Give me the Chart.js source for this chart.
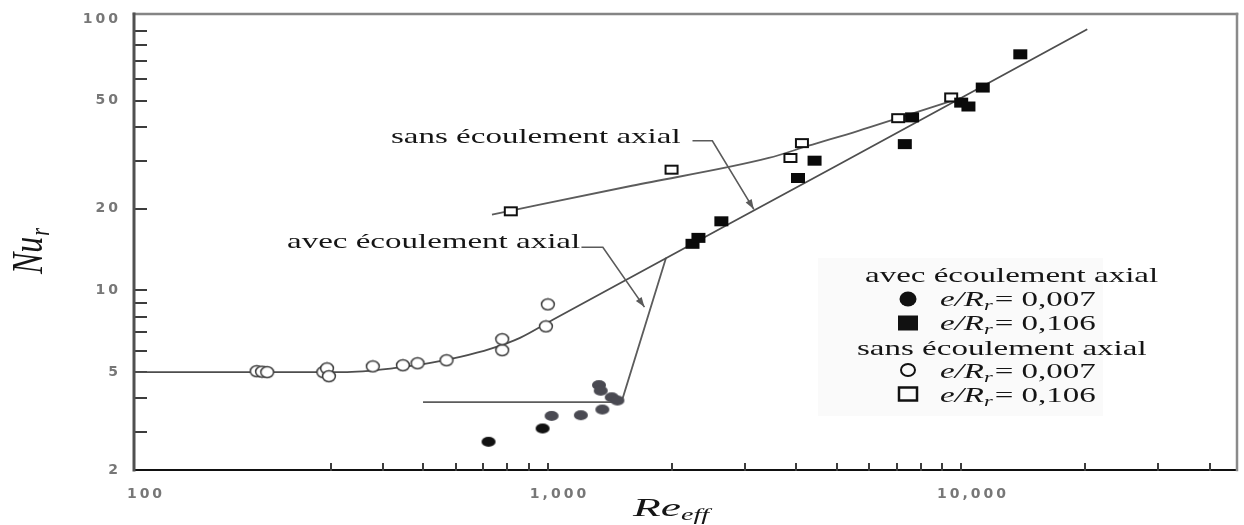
<!DOCTYPE html>
<html>
<head>
<meta charset="utf-8">
<script src="https://cdn.jsdelivr.net/npm/chart.js@4.4.1/dist/chart.umd.min.js"></script>
<style>
  html, body { margin: 0; padding: 0; background: #fff; }
  #wrap { width: 1244px; height: 525px; position: relative; }
</style>
</head>
<body>
<div id="wrap"><canvas id="c" width="1244" height="525"></canvas></div>
<script>
// Nu_r versus effective Reynolds number, with and without axial flow

// avec écoulement axial, e/R_r = 0,007 (filled circles)
const reAvec007 = [720, 973, 1023, 1204, 1357, 1332, 1345, 1430, 1476];
const nuAvec007 = [2.77, 3.10, 3.45, 3.47, 3.64, 4.48, 4.27, 4.04, 3.93];

// avec écoulement axial, e/R_r = 0,106 (filled squares)
const reAvec106 = [2242, 2317, 2633, 4034, 4424, 7311, 7614, 10007, 10420, 11284, 13910];
const nuAvec106 = [14.85, 15.62, 17.98, 25.95, 30.06, 34.6, 43.4, 49.2, 47.6, 55.9, 74.1];

// sans écoulement axial, e/R_r = 0,007 (open circles)
const reSans007 = [198, 204, 210, 287, 293, 296, 378, 447, 485, 570, 777, 777, 991, 1002];
const nuSans007 = [5.04, 5.02, 5.0, 5.0, 5.16, 4.83, 5.25, 5.30, 5.39, 5.53, 6.02, 6.61, 7.37, 8.88];

// sans écoulement axial, e/R_r = 0,106 (open squares)
const reSans106 = [815, 1995, 3867, 4123, 7047, 9467];
const nuSans106 = [19.57, 27.86, 30.75, 34.9, 43.1, 51.4];

// correlation curves
const reCurveLow = [100, 320, 425, 521, 615, 727, 858, 1030, 5000, 20200];
const nuCurveLow = [5.0, 5.0, 5.17, 5.41, 5.69, 6.09, 6.69, 7.80, 28.8, 91.6];
const reCurveHigh = [734, 1600, 3428, 4279, 5646, 7045, 9990];
const nuCurveHigh = [19.03, 24.3, 30.75, 34.12, 38.73, 43.15, 51.2];
const reCurveStep = [500, 1510, 1935];
const nuCurveStep = [3.88, 3.88, 13.2];

// annotation leaders (start, elbow, arrow tip)
const reLeaderSans = [2242, 2504, 3155];
const nuLeaderSans = [35.6, 35.6, 19.9];
const reLeaderAvec = [1208, 1361, 1716];
const nuLeaderAvec = [14.43, 14.43, 8.68];

// axes
const xRange = [100, 46500];
const yRange = [2.18, 104.3];
const xTickValues = [100, 1000, 10000];
const xTickLabels = ['100', '1,000', '10,000'];
const yTickValues = [2.18, 5, 10, 20, 50, 100];
const yTickLabels = ['2', '5', '10', '20', '50', '100'];
const xMarks = [300, 400, 500, 600, 700, 800, 900, 1000, 2000, 3000, 4000, 5000, 6000, 7000, 8000, 9000, 10000, 20000, 30000, 40000];
const yMarks = [3, 4, 5, 6, 7, 8, 9, 10, 20, 30, 40, 50, 60, 70, 80, 90];

const groupLabels = ['avec écoulement axial', 'sans écoulement axial'];
const ratioLabels = ['0,007', '0,106'];

const pts = (xs, ys) => xs.map((v, i) => ({ x: v, y: ys[i] }));

// marker sprites
function sprite(w, h, paint) {
  const c = document.createElement('canvas');
  c.width = w; c.height = h;
  paint(c.getContext('2d'), w, h);
  return c;
}
const dotDark = sprite(16, 12, g => { g.fillStyle = '#111'; g.beginPath(); g.ellipse(8, 6, 7, 5, 0, 0, Math.PI * 2); g.fill(); });
const dotGrey = sprite(16, 12, g => { g.fillStyle = '#4a4a52'; g.beginPath(); g.ellipse(8, 6, 7, 5, 0, 0, Math.PI * 2); g.fill(); });
const ring = sprite(16, 14, g => { g.fillStyle = '#fff'; g.strokeStyle = '#3a3a3a'; g.lineWidth = 1.5; g.beginPath(); g.ellipse(8, 7, 6.4, 5.4, 0, 0, Math.PI * 2); g.fill(); g.stroke(); });
const boxFull = sprite(16, 12, g => { g.fillStyle = '#0a0a0a'; g.fillRect(1, 1, 14, 10); });
const boxOpen = sprite(16, 12, g => { g.fillStyle = '#fff'; g.fillRect(1, 1, 14, 10); g.strokeStyle = '#111'; g.lineWidth = 2; g.strokeRect(2, 2, 12, 8); });

const lineStyle = (color, w, mode) => ({ type: 'scatter', showLine: true, borderColor: color, borderWidth: w, pointRadius: 0, pointHoverRadius: 0, fill: false, order: 2, cubicInterpolationMode: mode, tension: 0 });

function textRun(ctx, x, y, parts, k) {
  let cx = x;
  for (const p of parts) {
    ctx.save();
    ctx.letterSpacing = '0px';
    ctx.font = p.font;
    ctx.fillStyle = p.color || '#151515';
    ctx.textAlign = 'left';
    ctx.textBaseline = 'alphabetic';
    ctx.translate(cx, y + (p.dy || 0));
    ctx.scale(k, 1);
    ctx.fillText(p.t, 0, 0);
    const w = ctx.measureText(p.t).width * k;
    ctx.restore();
    cx += w + (p.gap || 0);
  }
  return cx;
}

const SERIF = '"Liberation Serif", "Times New Roman", serif';
const K = 1.5;

function leader(ctx, xs, ys, res, nus) {
  const p = res.map((r, i) => [xs.getPixelForValue(r), ys.getPixelForValue(nus[i])]);
  ctx.save();
  ctx.strokeStyle = '#5a5a5a';
  ctx.fillStyle = '#5a5a5a';
  ctx.lineWidth = 1.6;
  ctx.beginPath();
  ctx.moveTo(p[0][0], p[0][1]);
  for (let i = 1; i < p.length; i++) ctx.lineTo(p[i][0], p[i][1]);
  ctx.stroke();
  const [ax, ay] = p[p.length - 2];
  const [bx, by] = p[p.length - 1];
  const ang = Math.atan2(by - ay, bx - ax);
  ctx.translate(bx, by);
  ctx.rotate(ang);
  ctx.beginPath();
  ctx.moveTo(0, 0);
  ctx.lineTo(-10, -3.5);
  ctx.lineTo(-10, 3.5);
  ctx.closePath();
  ctx.fill();
  ctx.restore();
}

function seg(ctx, x1, y1, x2, y2, color, w) {
  ctx.save();
  ctx.setLineDash([]);
  ctx.globalAlpha = 1;
  ctx.strokeStyle = color;
  ctx.lineWidth = w;
  ctx.lineCap = 'square';
  ctx.beginPath();
  ctx.moveTo(x1, y1);
  ctx.lineTo(x2, y2);
  ctx.stroke();
  ctx.restore();
}

const decor = {
  id: 'decor',
  beforeDraw(chart) {
    chart.ctx.letterSpacing = '3px';
  },
  beforeDatasetsDraw(chart) {
    const { ctx, chartArea: a, scales: { x, y } } = chart;
    ctx.save();
    ctx.fillStyle = '#fafafa';
    ctx.fillRect(818, 258, 285, 158);
    ctx.restore();
    // inward tick marks
    for (const v of yMarks) {
      const py = Math.round(y.getPixelForValue(v));
      seg(ctx, a.left, py, a.left + 12, py, '#3c3c3c', 2);
    }
    for (const v of xMarks) {
      const px = Math.round(x.getPixelForValue(v));
      seg(ctx, px, a.bottom, px, a.bottom - 6, '#3c3c3c', 2);
    }
  },
  afterDraw(chart) {
    const { ctx, chartArea: a, scales: { x, y } } = chart;
    ctx.letterSpacing = '0px';

    // frame: top and right in grey, left axis darker
    seg(ctx, a.left, a.top, a.right, a.top, '#858585', 2.5);
    seg(ctx, a.right, a.top, a.right, a.bottom, '#8a8a8a', 2.5);
    seg(ctx, a.left, a.top, a.left, a.bottom, '#505050', 3);

    leader(ctx, x, y, reLeaderSans, nuLeaderSans);
    leader(ctx, x, y, reLeaderAvec, nuLeaderAvec);

    const reg = '22px ' + SERIF;
    const ita = 'italic 22px ' + SERIF;
    const sub = 'italic 15px ' + SERIF;
    textRun(ctx, 391, 143, [{ t: groupLabels[1], font: reg }], K);
    textRun(ctx, 287, 248, [{ t: groupLabels[0], font: reg }], K);

    // legend
    textRun(ctx, 865, 282, [{ t: groupLabels[0], font: reg }], K);
    textRun(ctx, 857, 355, [{ t: groupLabels[1], font: reg }], K);
    const rows = [
      { y: 299, base: 306, r: ratioLabels[0], mark: 'dot' },
      { y: 323, base: 330, r: ratioLabels[1], mark: 'box' },
      { y: 370, base: 378, r: ratioLabels[0], mark: 'ring' },
      { y: 394, base: 402, r: ratioLabels[1], mark: 'openbox' }
    ];
    for (const row of rows) {
      ctx.save();
      ctx.fillStyle = '#111';
      ctx.strokeStyle = '#111';
      if (row.mark === 'dot') { ctx.beginPath(); ctx.ellipse(908, row.y, 8.5, 7.5, 0, 0, Math.PI * 2); ctx.fill(); }
      if (row.mark === 'box') { ctx.fillRect(898, row.y - 7.5, 20, 15); }
      if (row.mark === 'ring') { ctx.lineWidth = 2; ctx.beginPath(); ctx.ellipse(908, row.y, 7, 6, 0, 0, Math.PI * 2); ctx.stroke(); }
      if (row.mark === 'openbox') { ctx.lineWidth = 2.5; ctx.strokeRect(899, row.y - 6.5, 18, 13); }
      ctx.restore();
      textRun(ctx, 940, row.base, [
        { t: 'e/R', font: ita },
        { t: 'r', font: sub, dy: 4, gap: 2 },
        { t: '= ' + row.r, font: reg }
      ], K);
    }

    // axis titles
    ctx.save();
    ctx.translate(42, 274);
    ctx.rotate(-Math.PI / 2);
    ctx.scale(1, 1.4);
    ctx.fillStyle = '#151515';
    ctx.textBaseline = 'alphabetic';
    ctx.font = 'italic 32px ' + SERIF;
    ctx.fillText('Nu', 0, 0);
    const wNu = ctx.measureText('Nu').width;
    ctx.font = 'italic 20px ' + SERIF;
    ctx.fillText('r', wNu + 1, 5);
    ctx.restore();

    textRun(ctx, 633, 516, [
      { t: 'Re', font: 'italic 26px ' + SERIF },
      { t: 'eff', font: 'italic 16px ' + SERIF, dy: 4 }
    ], 1.75);
  }
};

const hiddenGrid = { display: true, drawOnChartArea: false, drawTicks: false, color: 'rgba(0,0,0,0)' };

new Chart(document.getElementById('c'), {
  type: 'scatter',
  data: {
    datasets: [
      { label: groupLabels[0] + ' e/R = ' + ratioLabels[0], data: pts(reAvec007, nuAvec007),
        pointStyle: [dotDark, dotDark, dotGrey, dotGrey, dotGrey, dotGrey, dotGrey, dotGrey, dotGrey], pointRadius: 6, order: 1 },
      { label: groupLabels[0] + ' e/R = ' + ratioLabels[1], data: pts(reAvec106, nuAvec106),
        pointStyle: boxFull, pointRadius: 6, order: 1 },
      { label: groupLabels[1] + ' e/R = ' + ratioLabels[0], data: pts(reSans007, nuSans007),
        pointStyle: ring, pointRadius: 6, order: 1 },
      { label: groupLabels[1] + ' e/R = ' + ratioLabels[1], data: pts(reSans106, nuSans106),
        pointStyle: boxOpen, pointRadius: 6, order: 1 },
      Object.assign({ label: 'courbe 1', data: pts(reCurveLow, nuCurveLow) }, lineStyle('#4e4e4e', 1.8, 'monotone')),
      Object.assign({ label: 'courbe 2', data: pts(reCurveHigh, nuCurveHigh) }, lineStyle('#5c5c5c', 1.8, 'monotone')),
      Object.assign({ label: 'courbe 3', data: pts(reCurveStep, nuCurveStep) }, lineStyle('#5c5c5c', 1.8, 'default'))
    ]
  },
  options: {
    responsive: false,
    animation: false,
    layout: { padding: { top: 14, right: 5, left: 0, bottom: 0 } },
    plugins: { legend: { display: false }, tooltip: { enabled: false } },
    scales: {
      x: {
        type: 'logarithmic', min: xRange[0], max: xRange[1], position: 'bottom',
        grid: hiddenGrid,
        border: { display: true, color: '#111', width: 2 },
        ticks: {
          autoSkip: false, maxRotation: 0, minRotation: 0, padding: 16, labelOffset: 12,
          color: '#777', font: { family: 'DejaVu Sans', size: 14, weight: 'bold' },
          callback: (v, i) => xTickLabels[i]
        },
        afterBuildTicks: s => { s.ticks = xTickValues.map(v => ({ value: v })); },
        afterFit: s => { s.height = 55; s.paddingLeft = 0; s.paddingRight = 0; }
      },
      y: {
        type: 'logarithmic', min: yRange[0], max: yRange[1], position: 'left',
        grid: hiddenGrid,
        border: { display: false },
        ticks: {
          autoSkip: false, padding: 13,
          color: '#777', font: { family: 'DejaVu Sans', size: 14, weight: 'bold' },
          callback: (v, i) => yTickLabels[i]
        },
        afterBuildTicks: s => { s.ticks = yTickValues.map(v => ({ value: v })); },
        afterFit: s => { s.width = 134; s.paddingTop = 0; s.paddingBottom = 0; }
      }
    }
  },
  plugins: [decor]
});
</script>
</body>
</html>
